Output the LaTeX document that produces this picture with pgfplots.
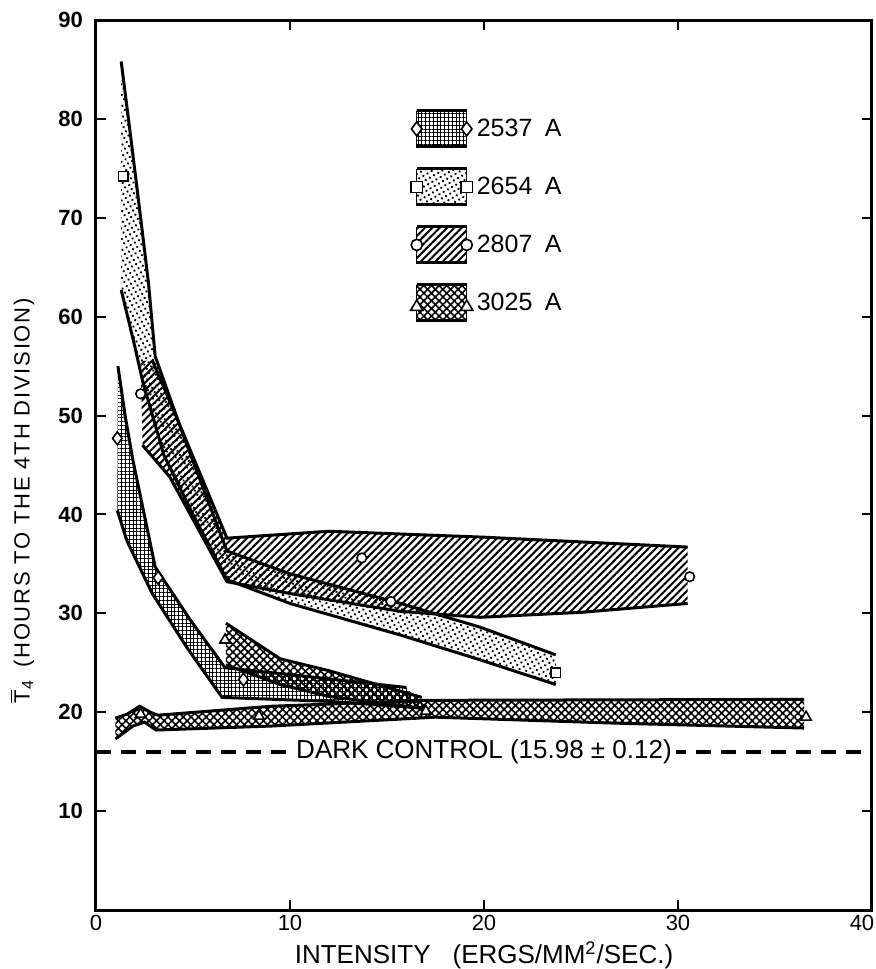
\documentclass[border=0pt]{standalone}
\usepackage{pgfplots}
\pgfplotsset{compat=1.18}
\usetikzlibrary{patterns.meta}
\usepackage{fontspec}
\setmainfont{Liberation Sans}
\newfontfamily\wide[LetterSpace=8]{Liberation Sans}

\tikzset{
 p2537/.style={pattern={Hatch[angle=0,distance=1.9pt,line width=0.5pt]}},
 p2654/.style={pattern={Dots[distance=2.4pt,radius=0.65pt,angle=30]}},
 p2807/.style={pattern={Lines[angle=45,distance=2.6pt,line width=1pt]}},
 p3025/.style={pattern={Hatch[angle=45,distance=2.7pt,line width=0.8pt]}},
 edge/.style={line width=1.5pt, black},
}

\begin{document}
\begin{tikzpicture}
\begin{axis}[
  scale only axis, width=388pt, height=445pt,
  xmin=0, xmax=40, ymin=0, ymax=90,
  xtick={0,10,20,30}, extra x ticks={40},
  extra x tick style={xticklabel style={xshift=-5pt}},
  ytick={10,20,...,90},
  tick align=inside, major tick length=5pt,
  tick style={line width=1pt, black},
  axis line style={line width=1.5pt},
  /pgf/number format/assume math mode=true,
  xticklabel style={font=\fontsize{11}{12}\selectfont, yshift=1pt},
  yticklabel style={font=\bfseries\fontsize{11}{12}\selectfont, xshift=-3pt},
  xlabel={INTENSITY\hspace{11pt}(ERGS/MM\textsuperscript{2}/SEC.)},
  xlabel style={font=\fontsize{13}{15}\selectfont, at={(axis description cs:0.5,0)}, anchor=center, yshift=-22.5pt},
  ylabel={$\overline{\mbox{T}}_{\mbox{\fontsize{8}{8}\selectfont 4}}$\hspace{6pt}(HOURS TO THE 4TH DIVISION)},
  ylabel style={font=\wide\fontsize{11}{13}\selectfont, at={(axis description cs:-0.095,0.46)}, anchor=center},
  legend style={at={(axis cs:16.2,81)}, anchor=north west, draw=none, fill=none,
     row sep=9.5pt, inner sep=0pt, font=\fontsize{12.5}{15}\selectfont},
  legend cell align=left,
]

% ---- 2654 A (dots) ----
\addplot[forget plot, draw=none, p2654] coordinates {
 (1.3,85.8) (1.8,78) (2.3,70) (2.7,63.5) (3.05,56) (4.5,48) (6.75,36.3) (10,34) (15.7,31) (19.8,28.6) (23.7,25.8)
 (23.7,22.8) (19.8,25.3) (15.7,27.8) (10,31) (6.75,33.4) (5,40) (3.5,46) (2.4,53.5) (2.0,57) (1.3,62.7)} -- cycle;
\addplot[forget plot, edge] coordinates {(1.3,85.8) (1.8,78) (2.3,70) (2.7,63.5) (3.05,56) (4.5,48) (6.75,36.3) (10,34) (15.7,31) (19.8,28.6) (23.7,25.8)};
\addplot[forget plot, edge] coordinates {(1.3,62.7) (2.0,57) (2.4,53.5) (3.5,46) (5,40) (6.75,33.4) (10,31) (15.7,27.8) (19.8,25.3) (23.7,22.8)};

% ---- 2807 A (hatched) ----
\addplot[forget plot, draw=none, p2807] coordinates {
 (2.3,55.5) (2.9,55.6) (4.5,48.2) (6.75,37.6) (12,38.3) (20,37.7) (30.5,36.7)
 (30.5,31.0) (25,30.1) (19.8,29.6) (15.7,30.2) (10,32) (6.75,33.2) (5,39.5) (3.8,43.8) (2.4,47)} -- cycle;
\addplot[forget plot, edge] coordinates {(2.9,55.6) (4.5,48.2) (6.75,37.6) (12,38.3) (20,37.7) (30.5,36.7)};
\addplot[forget plot, edge] coordinates {(2.4,47) (3.8,43.8) (5,39.5) (6.75,33.2) (10,32) (15.7,30.2) (19.8,29.6) (25,30.1) (30.5,31.0)};

% ---- 2537 A (grid) ----
\addplot[forget plot, draw=none, p2537] coordinates {
 (1.13,55) (1.5,50) (1.9,45.5) (3.05,34.7) (4.8,29.5) (6.65,24.5) (10,23.8) (16,22.5)
 (17,20.4) (12,21.1) (6.5,21.5) (4.7,26.5) (2.9,32) (1.6,37.3) (1.1,40.4)} -- cycle;
\addplot[forget plot, edge] coordinates {(1.13,55) (1.5,50) (1.9,45.5) (3.05,34.7) (4.8,29.5) (6.65,24.5) (10,23.8) (16,22.5)};
\addplot[forget plot, edge] coordinates {(1.1,40.4) (1.6,37.3) (2.9,32) (4.7,26.5) (6.5,21.5) (12,21.1) (17,20.4)};

% ---- 3025 A (crosshatch), upper piece ----
\addplot[forget plot, draw=none, p3025] coordinates {
 (6.7,29.0) (9.5,25.4) (12,24.2) (16.8,21.5)
 (16.8,20.4) (12,21.6) (9.5,22.8) (6.7,24.8)} -- cycle;
\addplot[forget plot, edge] coordinates {(6.7,29.0) (9.5,25.4) (12,24.2) (16.8,21.5)};
\addplot[forget plot, edge] coordinates {(6.7,24.8) (9.5,22.8) (12,21.6) (16.8,20.4)};

% ---- 3025 A (crosshatch), lower band ----
\addplot[forget plot, draw=none, p3025] coordinates {
 (1.0,19.4) (1.6,19.8) (2.25,20.6) (2.8,20.0) (3.2,19.7) (9,20.6) (17,21.2) (36.5,21.3)
 (36.5,18.4) (26.7,18.9) (17.5,19.5) (9,18.6) (3.1,18.2) (2.5,19.0) (1.9,18.6) (1.0,17.3)} -- cycle;
\addplot[forget plot, edge] coordinates {(1.0,19.4) (1.6,19.8) (2.25,20.6) (2.8,20.0) (3.2,19.7) (9,20.6) (17,21.2) (36.5,21.3)};
\addplot[forget plot, edge] coordinates {(1.0,17.3) (1.9,18.6) (2.5,19.0) (3.1,18.2) (9,18.6) (17.5,19.5) (26.7,18.9) (36.5,18.4)};

% ---- markers ----
\addplot[forget plot, only marks, mark=diamond*, mark size=3.2pt, mark options={fill=white, line width=0.8pt}]
 coordinates {(1.1,47.7) (3.2,33.6) (7.6,23.3)};
\addplot[forget plot, only marks, mark=square*, mark size=2.4pt, mark options={fill=white, line width=0.8pt}]
 coordinates {(1.4,74.2) (23.7,24.0)};
\addplot[forget plot, only marks, mark=*, mark size=2.4pt, mark options={fill=white, line width=0.8pt}]
 coordinates {(2.3,52.2) (13.7,35.6) (15.2,31.2) (30.6,33.7)};
\addplot[forget plot, only marks, mark=triangle*, mark size=3pt, mark options={fill=white, line width=0.8pt}]
 coordinates {(6.65,27.3) (2.3,19.8) (8.4,19.6) (17.0,20.1) (36.6,19.5)};

% ---- dark control ----
\addplot[forget plot, line width=1.7pt, dash pattern=on 7.5pt off 5pt] coordinates {(0,15.98) (40,15.98)};
\node[fill=white, inner xsep=2pt, inner ysep=1pt, font=\fontsize{13}{15}\selectfont] at (axis cs:20,15.98) {DARK CONTROL (15.98 ± 0.12)};

% ---- legend ----
\addlegendimage{legend image code/.code={
  \fill[p2537] (0pt,-9pt) rectangle (25pt,9pt);
  \draw[line width=1.5pt] (0pt,9pt)--(25pt,9pt) (0pt,-9pt)--(25pt,-9pt);
  \draw[line width=0.8pt,fill=white] plot[only marks,mark=diamond*,mark size=3.5pt] coordinates {(0pt,0pt) (25pt,0pt)};
}}
\addlegendentry{2537\hspace{0.5em}A}
\addlegendimage{legend image code/.code={
  \fill[p2654] (0pt,-9pt) rectangle (25pt,9pt);
  \draw[line width=1.5pt] (0pt,9pt)--(25pt,9pt) (0pt,-9pt)--(25pt,-9pt);
  \draw[line width=0.8pt,fill=white] plot[only marks,mark=square*,mark size=2.8pt] coordinates {(0pt,0pt) (25pt,0pt)};
}}
\addlegendentry{2654\hspace{0.5em}A}
\addlegendimage{legend image code/.code={
  \fill[p2807] (0pt,-9pt) rectangle (25pt,9pt);
  \draw[line width=1.5pt] (0pt,9pt)--(25pt,9pt) (0pt,-9pt)--(25pt,-9pt);
  \draw[line width=0.8pt,fill=white] plot[only marks,mark=*,mark size=2.8pt] coordinates {(0pt,0pt) (25pt,0pt)};
}}
\addlegendentry{2807\hspace{0.5em}A}
\addlegendimage{legend image code/.code={
  \fill[p3025] (0pt,-9pt) rectangle (25pt,9pt);
  \draw[line width=1.5pt] (0pt,9pt)--(25pt,9pt) (0pt,-9pt)--(25pt,-9pt);
  \draw[line width=0.8pt,fill=white] plot[only marks,mark=triangle*,mark size=3.5pt] coordinates {(0pt,-2pt) (25pt,-2pt)};
}}
\addlegendentry{3025\hspace{0.5em}A}
\end{axis}
\pgfresetboundingbox
\path (-48pt,-29.5pt) rectangle (389.5pt,455pt);
\end{tikzpicture}
\end{document}
